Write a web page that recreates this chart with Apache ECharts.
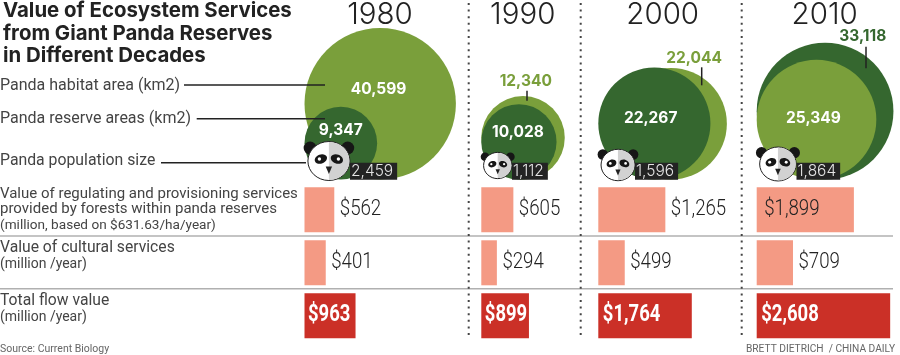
<!DOCTYPE html>
<html>
<head>
<meta charset="utf-8">
<style>
  html, body { margin: 0; padding: 0; background: #fff; }
  #chart { width: 900px; height: 355px; }
</style>
<script src="https://cdn.jsdelivr.net/npm/echarts@6/dist/echarts.min.js"></script>
</head>
<body>
<div id="chart"></div>
<script>
const years = ['1980', '1990', '2000', '2010'];
const habitat = [40599, 12340, 22044, 25349];
const reserve = [9347, 10028, 22267, 33118];
const population = [2459, 1112, 1596, 1864];
const regulating = [562, 605, 1265, 1899];
const cultural = [401, 294, 499, 709];
const total = [963, 899, 1764, 2608];

const LIGHT_GREEN = '#7a9f3b';
const DARK_GREEN = '#35672f';
const SALMON = '#f49a84';
const RED = '#cb3027';
const SANS = 'Roboto, sans-serif';
const GOTHIC = 'Inter, sans-serif';

// layout, in page pixels
const colLeft = [304.5, 481.3, 598.3, 756.7];
const yearX = [380, 522.7, 662.7, 824.7];
const circleBottom = 179.5;
const radiusPerRoot = 0.3757; // circle area follows km2
const barScale = 0.053; // px per million
const barAxisMax = 2800;
const habitatShift = [0, 0, 17, 0];
const pandaY = [161, 165.5, 165, 164];
const boxX = [350, 512, 635, 796.5];
const pandaHeadWidth = 21;

const fmt = (v) => v.toLocaleString('en-US');
const radius = (v) => radiusPerRoot * Math.sqrt(v);

// label offset from the circle centre, [dx, dy]
const habitatLabel = [
  { offset: [-1.7, -14.7], color: '#fff' },
  { offset: [2.7, -56], color: LIGHT_GREEN },
  { offset: [23, -65.7], color: LIGHT_GREEN },
  { offset: [-3.1, -1.4], color: '#fff' },
];
const reserveLabel = [
  { offset: [0, -12.5], color: '#fff' },
  { offset: [-1, -10], color: '#fff' },
  { offset: [-3.7, -5], color: '#fff' },
  { offset: [37.7, -75], color: DARK_GREEN },
];

function circleItem(name, value, x, color, lab) {
  const r = radius(value);
  return {
    name: name,
    value: [x + r, circleBottom - r, value],
    itemStyle: { color: color, opacity: 1 },
    label: {
      show: true,
      position: 'inside',
      offset: lab.offset,
      color: lab.color,
      fontFamily: GOTHIC,
      fontWeight: 700,
      fontSize: 15.5,
      formatter: fmt(value),
    },
  };
}

// 2010 has the habitat circle above the reserve circle, the rest the other way
const circleData = [];
years.forEach(function (year, i) {
  const h = circleItem('Panda habitat area', habitat[i], colLeft[i] + habitatShift[i], LIGHT_GREEN, habitatLabel[i]);
  const r = circleItem('Panda reserve areas', reserve[i], colLeft[i], DARK_GREEN, reserveLabel[i]);
  if (i === 3) circleData.push(r, h);
  else circleData.push(h, r);
});

function renderPanda(params, api) {
  const i = params.dataIndex;
  const count = api.value(2);
  const s = Math.sqrt(count / population[0]);
  const p = api.coord([colLeft[i] + 24.4 * s, pandaY[i]]);
  const cx = p[0];
  const cy = p[1];
  const rx = pandaHeadWidth * s;
  const ry = 19.5 * s;
  const eye = function (side) {
    const ex = cx + side * 8 * s;
    const ey = cy - 2 * s;
    return [
      {
        type: 'ellipse',
        originX: ex,
        originY: ey,
        rotation: -side * 0.35,
        shape: { cx: ex, cy: ey, rx: 6.3 * s, ry: 4.6 * s },
        style: { fill: '#161616' },
      },
      { type: 'circle', shape: { cx: ex + side * 1.5 * s, cy: ey, r: 1.7 * s }, style: { fill: '#fff' } },
    ];
  };
  return {
    type: 'group',
    children: [
      { type: 'circle', shape: { cx: cx - 18.8 * s, cy: cy - 13 * s, r: 6.5 * s }, style: { fill: '#161616' } },
      { type: 'circle', shape: { cx: cx + 18.8 * s, cy: cy - 13 * s, r: 6.5 * s }, style: { fill: '#161616' } },
      { type: 'ellipse', shape: { cx: cx, cy: cy, rx: rx, ry: ry }, style: { fill: '#fff', stroke: '#222', lineWidth: 1 } },
      {
        type: 'polygon',
        shape: {
          points: Array.from({ length: 25 }, function (_, k) {
            const a = -Math.PI / 2 + (Math.PI * k) / 24;
            return [cx + (rx - 0.5) * Math.cos(a), cy + (ry - 0.5) * Math.sin(a)];
          }),
        },
        style: { fill: '#d2d2d2' },
      },
      ...eye(-1),
      ...eye(1),
      {
        type: 'polygon',
        shape: { points: [[cx - 3.2 * s, cy + 5.5 * s], [cx + 3.2 * s, cy + 5.5 * s], [cx, cy + 13 * s]] },
        style: { fill: '#222' },
      },
      {
        type: 'text',
        style: {
          x: boxX[i],
          y: 171.3,
          text: fmt(count),
          fill: '#e4e4e4',
          font: '300 15.5px ' + GOTHIC,
          verticalAlign: 'middle',
          backgroundColor: '#232323',
          padding: [1, 4, 0, 1],
        },
      },
    ],
  };
}

// no narrow face is installed, so the bar figures are squeezed with scaleX
function renderBarLabel(params, api) {
  const value = api.value(0);
  const row = api.value(1);
  const end = api.coord([value, row]);
  const start = api.coord([0, row]);
  const isTotal = row === 2;
  const inside = isTotal || value > 1500;
  let x = end[0] + 5.5;
  if (isTotal) x = start[0] + (value < 1000 ? 3.5 : 4.5);
  else if (inside) x = start[0] + 7.5;
  return {
    type: 'text',
    x: x,
    y: end[1] - 0.5,
    scaleX: isTotal ? 0.77 : 0.83,
    style: {
      text: '$' + fmt(value),
      fill: isTotal ? '#fff' : '#222',
      font: (isTotal ? '700 24px ' : '300 22.5px ') + SANS,
      verticalAlign: 'middle',
    },
  };
}

const grids = [{ left: 0, top: 0, width: 900, height: 355 }];
const xAxes = [{ gridIndex: 0, type: 'value', min: 0, max: 900, show: false }];
const yAxes = [{ gridIndex: 0, type: 'value', min: 0, max: 355, inverse: true, show: false }];
const barSeries = [];
years.forEach(function (year, i) {
  const g = i + 1;
  grids.push({ left: colLeft[i], top: 183.3, width: barAxisMax * barScale, height: 159 });
  xAxes.push({ gridIndex: g, type: 'value', min: 0, max: barAxisMax, show: false });
  yAxes.push({ gridIndex: g, type: 'category', inverse: true, show: false, data: ['regulating', 'cultural', 'total'] });
  barSeries.push({
    name: year,
    type: 'bar',
    xAxisIndex: g,
    yAxisIndex: g,
    barWidth: 45,
    silent: true,
    data: [
      { value: regulating[i], itemStyle: { color: SALMON } },
      { value: cultural[i], itemStyle: { color: SALMON } },
      { value: total[i], itemStyle: { color: RED } },
    ],
  });
  barSeries.push({
    name: year + ' labels',
    type: 'custom',
    xAxisIndex: g,
    yAxisIndex: g,
    silent: true,
    z: 5,
    renderItem: renderBarLabel,
    encode: { x: 0, y: 1 },
    data: [[regulating[i], 0], [cultural[i], 1], [total[i], 2]],
  });
});

function text(x, y, str, size, opts) {
  return {
    type: 'text',
    z: 60,
    style: Object.assign({
      x: x,
      y: y,
      text: str,
      fill: '#444',
      font: '400 ' + size + 'px ' + SANS,
      verticalAlign: 'middle',
    }, opts || {}),
  };
}

function line(x1, y1, x2, y2, stroke, width, dash) {
  return {
    type: 'line',
    z: 50,
    shape: { x1: x1, y1: y1, x2: x2, y2: y2 },
    style: { stroke: stroke, lineWidth: width, lineDash: dash },
  };
}

const titleFont = { font: '700 20.4px ' + GOTHIC, fill: '#222' };
const graphics = [
  text(3, 11, 'Value of Ecosystem Services', 20, titleFont),
  text(3, 33.5, 'from Giant Panda Reserves', 20, titleFont),
  text(3, 56, 'in Different Decades', 20, titleFont),
  text(0, 86, 'Panda habitat area (km2)', 16),
  text(0, 118.7, 'Panda reserve areas (km2)', 16),
  text(0, 161, 'Panda population size', 15.8),
  text(0, 194, 'Value of regulating and provisioning services', 15),
  text(0, 209.7, 'provided by forests within panda reserves', 15),
  text(0, 225.3, '(million, based on $631.63/ha/year)', 13.6),
  text(0, 247.7, 'Value of cultural services', 15.7),
  text(0, 264, '(million /year)', 14),
  text(0, 301.3, 'Total flow value', 15.7),
  text(0, 317.3, '(million /year)', 14),
  text(0, 349.3, 'Source: Current Biology', 10.5, { fill: '#666' }),
  text(895, 349.3, 'BRETT DIETRICH  / CHINA DAILY', 10.2, { fill: '#666', align: 'right' }),
  line(184, 85, 325, 85, '#222', 1.5),
  line(196.7, 118.7, 325, 118.7, '#222', 1.5),
  line(161, 162.7, 306, 162.7, '#222', 1.5),
  line(527, 90.7, 527, 100.7, '#222', 1.5),
  line(701.7, 67.3, 701.7, 85.3, '#222', 1.5),
  line(866, 46.7, 866, 68.3, '#222', 1.5),
  line(0, 236, 893, 236, '#b0b0b0', 1.5),
  line(0, 288.7, 893, 288.7, '#b0b0b0', 1.5),
  line(468.7, 3, 468.7, 338, '#444', 2, [2, 4.6]),
  line(580.7, 3, 580.7, 338, '#444', 2, [2, 4.6]),
  line(741.7, 3, 741.7, 338, '#444', 2, [2, 4.6]),
];
years.forEach(function (year, i) {
  graphics.push(text(yearX[i], 15, year, 29.5, { font: '300 29.5px ' + GOTHIC, fill: '#222', align: 'center' }));
});

const chart = echarts.init(document.getElementById('chart'));
chart.setOption({
  animation: false,
  backgroundColor: '#fff',
  grid: grids,
  xAxis: xAxes,
  yAxis: yAxes,
  graphic: { elements: graphics },
  series: [
    {
      name: 'areas',
      type: 'scatter',
      xAxisIndex: 0,
      yAxisIndex: 0,
      silent: true,
      symbolSize: (v) => 2 * radius(v[2]),
      encode: { x: 0, y: 1 },
      data: circleData,
    },
    {
      name: 'Panda population size',
      type: 'custom',
      xAxisIndex: 0,
      yAxisIndex: 0,
      silent: true,
      z: 20,
      renderItem: renderPanda,
      encode: { x: 0, y: 1 },
      data: population.map((v) => [0, 0, v]),
    },
  ].concat(barSeries),
});
</script>
</body>
</html>
